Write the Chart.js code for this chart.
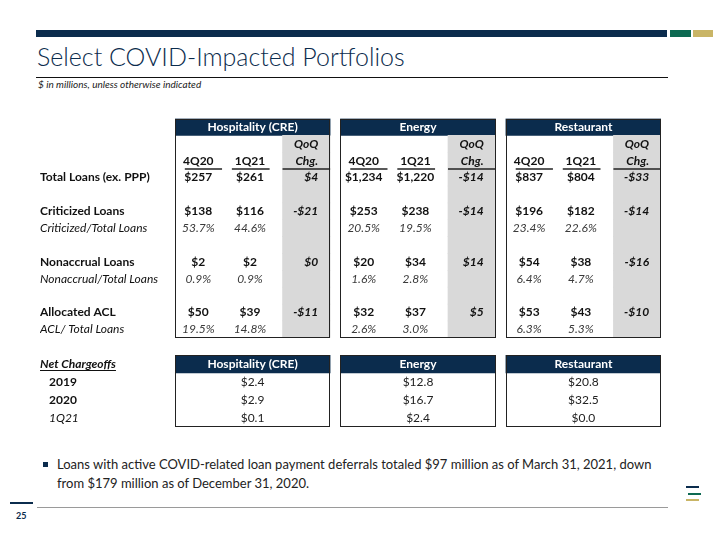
<!DOCTYPE html>
<html>
<head>
<meta charset="utf-8">
<script src="https://cdn.jsdelivr.net/npm/chart.js@4.4.1/dist/chart.umd.min.js"></script>
<style>
  body { margin: 0; background: #fff; font-family: Lato, sans-serif; }
  #slide { position: relative; width: 720px; height: 540px; overflow: hidden; }
  .abs { position: absolute; }
</style>
</head>
<body>
<div id="slide">
  <div class="abs" style="left:36px;top:30px;width:631px;height:7px;background:#0b2c4d"></div>
  <div class="abs" style="left:670px;top:30px;width:21px;height:7px;background:#0d6a52"></div>
  <div class="abs" style="left:693px;top:30px;width:20px;height:7px;background:#c9b566"></div>
  <div class="abs" style="left:37px;top:41px;font-size:25px;font-weight:300;color:#0b2c4d;white-space:nowrap">Select COVID-Impacted Portfolios</div>
  <div class="abs" style="left:36px;top:77px;width:632px;height:1px;background:#111"></div>
  <div class="abs" style="left:38px;top:78px;font-size:10px;font-style:italic;color:#222;white-space:nowrap">$ in millions, unless otherwise indicated</div>

  <div class="abs" style="left:0;top:110px;width:720px;height:235px"><canvas id="mainTable"></canvas></div>
  <div class="abs" style="left:0;top:350px;width:720px;height:82px"><canvas id="ncoTable"></canvas></div>

  <div class="abs" style="left:43px;top:462px;width:5px;height:5px;background:#0b2c4d"></div>
  <div class="abs" style="left:57px;top:455px;font-size:13px;line-height:19px;color:#222;white-space:nowrap">Loans with active COVID-related loan payment deferrals totaled $97 million as of March 31, 2021, down<br>from $179 million as of December 31, 2020.</div>

  <div class="abs" style="left:10px;top:502px;width:23px;height:2px;background:#0b2c4d"></div>
  <div class="abs" style="left:37px;top:507px;width:631px;height:1px;background:#9a9a9a"></div>
  <div class="abs" style="left:16px;top:510px;font-size:9px;font-weight:700;color:#0b2c4d">25</div>
  <div class="abs" style="left:686px;top:486px;width:13px;height:2px;background:#0b2c4d"></div>
  <div class="abs" style="left:688px;top:493px;width:13px;height:2px;background:#0d6a52"></div>
  <div class="abs" style="left:686px;top:499px;width:13px;height:2px;background:#c9b566"></div>
</div>

<script>
const segments = ['Hospitality (CRE)', 'Energy', 'Restaurant'];
const periods = ['4Q20', '1Q21'];
const rowLabels = ['', '', '', 'Total Loans (ex. PPP)', '', 'Criticized Loans', 'Criticized/Total Loans', '',
    'Nonaccrual Loans', 'Nonaccrual/Total Loans', '', 'Allocated ACL', 'ACL/ Total Loans'];

// $ millions, one value per segment
const totalLoans4Q20 = [257, 1234, 837];
const totalLoans1Q21 = [261, 1220, 804];
const totalLoansChg = [4, -14, -33];
const criticized4Q20 = [138, 253, 196];
const criticized1Q21 = [116, 238, 182];
const criticizedChg = [-21, -14, -14];
const criticizedPct4Q20 = [53.7, 20.5, 23.4];
const criticizedPct1Q21 = [44.6, 19.5, 22.6];
const nonaccrual4Q20 = [2, 20, 54];
const nonaccrual1Q21 = [2, 34, 38];
const nonaccrualChg = [0, 14, -16];
const nonaccrualPct4Q20 = [0.9, 1.6, 6.4];
const nonaccrualPct1Q21 = [0.9, 2.8, 4.7];
const acl4Q20 = [50, 32, 53];
const acl1Q21 = [39, 37, 43];
const aclChg = [-11, 5, -10];
const aclPct4Q20 = [19.5, 2.6, 6.3];
const aclPct1Q21 = [14.8, 3.0, 5.3];

const ncoLabels = ['Net Chargeoffs', '2019', '2020', '1Q21'];
const nco2019 = [2.4, 12.8, 20.8];
const nco2020 = [2.9, 16.7, 32.5];
const nco1Q21 = [0.1, 2.4, 0.0];

const NAVY = '#0b2c4d';
const GREY = '#d9d9d9';
const FONT = 'Lato, sans-serif';
const SIZE = 12;
const BLOCK = 3, GAP = 0.2;
const blockStart = segments.map((s, i) => i * (BLOCK + GAP));
const xMax = segments.length * BLOCK + (segments.length - 1) * GAP;

const money = v => (v < 0 ? '-$' : '$') + Math.abs(v).toLocaleString('en-US');
const pct = v => v.toFixed(1) + '%';

// one text row per table row: [4Q20 col, 1Q21 col, QoQ col], style
const bodyRows = {
    3: { vals: [totalLoans4Q20, totalLoans1Q21, totalLoansChg], fmt: money, bold: true },
    5: { vals: [criticized4Q20, criticized1Q21, criticizedChg], fmt: money, bold: true },
    6: { vals: [criticizedPct4Q20, criticizedPct1Q21], fmt: pct, italic: true },
    8: { vals: [nonaccrual4Q20, nonaccrual1Q21, nonaccrualChg], fmt: money, bold: true },
    9: { vals: [nonaccrualPct4Q20, nonaccrualPct1Q21], fmt: pct, italic: true },
    11: { vals: [acl4Q20, acl1Q21, aclChg], fmt: money, bold: true },
    12: { vals: [aclPct4Q20, aclPct1Q21], fmt: pct, italic: true }
};

const labelStyle = i => {
    const italic = /\//.test(rowLabels[i]);
    return { family: FONT, size: SIZE, weight: italic ? 'normal' : 'bold', style: italic ? 'italic' : 'normal' };
};

function font(bold, italic, size) {
    return (italic ? 'italic ' : '') + (bold ? 'bold ' : '') + size + 'px ' + FONT;
}

function outline(chart, rows) {
    const { ctx } = chart;
    const x = chart.scales.x, y = chart.scales.y;
    const step = y.getPixelForValue(1) - y.getPixelForValue(0);
    const top = y.getPixelForValue(0) - step / 2;
    const bottom = y.getPixelForValue(rows - 1) + step / 2;
    ctx.save();
    ctx.strokeStyle = '#222';
    ctx.lineWidth = 1;
    blockStart.forEach(s => {
        const l = Math.round(x.getPixelForValue(s)) + 0.5;
        const r = Math.round(x.getPixelForValue(s + BLOCK)) - 0.5;
        ctx.strokeRect(l, Math.round(top) + 0.5, r - l, Math.round(bottom) - Math.round(top) - 1);
    });
    ctx.restore();
    return { step, top, bottom };
}

const mainTextPlugin = {
    id: 'mainText',
    afterDatasetsDraw(chart) {
        const { ctx } = chart;
        const x = chart.scales.x, y = chart.scales.y;
        const { step } = outline(chart, rowLabels.length);
        const colCenter = [0.45, 1.45];
        const chgRight = 2.77;
        ctx.save();
        ctx.textBaseline = 'middle';
        segments.forEach((seg, b) => {
            const s = blockStart[b];
            ctx.fillStyle = '#fff';
            ctx.textAlign = 'center';
            ctx.font = font(true, false, SIZE);
            ctx.fillText(seg, x.getPixelForValue(s + BLOCK / 2), y.getPixelForValue(0));

            ctx.fillStyle = '#111';
            periods.forEach((p, c) => ctx.fillText(p, x.getPixelForValue(s + colCenter[c]), y.getPixelForValue(2)));
            ctx.textAlign = 'right';
            ctx.font = font(true, true, SIZE);
            ctx.fillText('QoQ', x.getPixelForValue(s + chgRight), y.getPixelForValue(1));
            ctx.fillText('Chg.', x.getPixelForValue(s + chgRight), y.getPixelForValue(2));

            // underlines below the column headers
            const lineY = Math.round(y.getPixelForValue(2) + step / 2);
            ctx.strokeStyle = '#222';
            ctx.lineWidth = 1.5;
            [[0.19, 0.91], [1.1, 1.83], [2.08, 3.0]].forEach(([a, e]) => {
                ctx.beginPath();
                ctx.moveTo(x.getPixelForValue(s + a), lineY);
                ctx.lineTo(x.getPixelForValue(s + e), lineY);
                ctx.stroke();
            });

            Object.keys(bodyRows).forEach(r => {
                const row = bodyRows[r];
                const py = y.getPixelForValue(+r);
                row.vals.forEach((arr, c) => {
                    const txt = row.fmt(arr[b]);
                    if (c < 2) {
                        ctx.textAlign = 'center';
                        ctx.font = font(row.bold, row.italic, SIZE);
                        ctx.fillStyle = row.italic ? '#3a3a3a' : '#111';
                        ctx.fillText(txt, x.getPixelForValue(s + colCenter[c]), py);
                    } else {
                        ctx.textAlign = 'right';
                        ctx.font = font(true, true, SIZE);
                        ctx.fillStyle = '#111';
                        ctx.fillText(txt, x.getPixelForValue(s + chgRight), py);
                    }
                });
            });
        });
        ctx.restore();
    }
};

const ncoTextPlugin = {
    id: 'ncoText',
    afterDatasetsDraw(chart) {
        const { ctx } = chart;
        const x = chart.scales.x, y = chart.scales.y;
        outline(chart, ncoLabels.length);
        const series = [null, nco2019, nco2020, nco1Q21];
        ctx.save();
        ctx.textBaseline = 'middle';
        // row labels to the left of the blocks
        ncoLabels.forEach((l, i) => {
            const py = y.getPixelForValue(i);
            ctx.textAlign = 'left';
            ctx.fillStyle = '#111';
            if (i === 0) {
                ctx.font = font(true, true, SIZE);
                ctx.fillText(l, 40, py);
                const w = ctx.measureText(l).width;
                ctx.fillRect(40, Math.round(py + 6), w, 1);
            } else {
                ctx.font = font(i < 3, i === 3, SIZE);
                ctx.fillText(l, 49, py);
            }
        });
        segments.forEach((seg, b) => {
            const cx = x.getPixelForValue(blockStart[b] + BLOCK / 2);
            ctx.textAlign = 'center';
            ctx.fillStyle = '#fff';
            ctx.font = font(true, false, SIZE);
            ctx.fillText(seg, cx, y.getPixelForValue(0));
            ctx.fillStyle = '#222';
            ctx.font = font(false, false, SIZE);
            for (let i = 1; i < series.length; i++) {
                ctx.fillText('$' + series[i][b].toFixed(1), cx, y.getPixelForValue(i));
            }
        });
        ctx.restore();
    }
};

// navy header band on row 0, grey QoQ column on the body rows
const mainDatasets = blockStart.map(s => ({
    data: rowLabels.map((l, i) => i === 0 ? [s, s + BLOCK] : [s + 2.08, s + BLOCK]),
    backgroundColor: rowLabels.map((l, i) => i === 0 ? NAVY : GREY),
    borderWidth: 0,
    barPercentage: 1,
    categoryPercentage: 1,
    grouped: false
}));

const ncoDatasets = blockStart.map(s => ({
    data: ncoLabels.map((l, i) => i === 0 ? [s, s + BLOCK] : null),
    backgroundColor: NAVY,
    borderWidth: 0,
    barPercentage: 1,
    categoryPercentage: 1,
    grouped: false
}));

const baseOptions = {
    indexAxis: 'y',
    responsive: true,
    maintainAspectRatio: false,
    animation: false,
    events: [],
    plugins: { legend: { display: false }, tooltip: { enabled: false } }
};

new Chart(document.getElementById('mainTable'), {
    type: 'bar',
    data: { labels: rowLabels, datasets: mainDatasets },
    options: {
        ...baseOptions,
        layout: { padding: { top: 8.5, bottom: 6.5, left: 40, right: 59 } },
        scales: {
            x: { type: 'linear', min: 0, max: xMax, display: false },
            y: {
                grid: { display: false },
                border: { display: false },
                afterFit: scale => { scale.width = 135; },
                ticks: {
                    autoSkip: false,
                    padding: 0,
                    crossAlign: 'far',
                    color: '#111',
                    font: c => labelStyle(c.index)
                }
            }
        }
    },
    plugins: [mainTextPlugin]
});

new Chart(document.getElementById('ncoTable'), {
    type: 'bar',
    data: { labels: ncoLabels, datasets: ncoDatasets },
    options: {
        ...baseOptions,
        layout: { padding: { top: 5, bottom: 5, left: 175, right: 59 } },
        scales: {
            x: { type: 'linear', min: 0, max: xMax, display: false },
            y: { display: false }
        }
    },
    plugins: [ncoTextPlugin]
});
</script>
</body>
</html>
